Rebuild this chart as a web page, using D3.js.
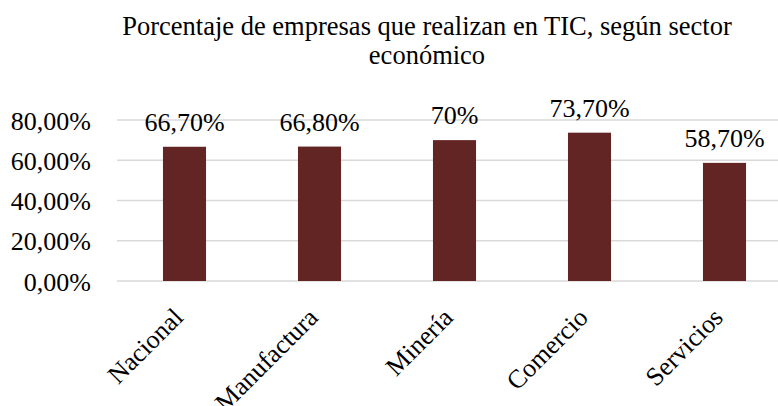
<!DOCTYPE html>
<html><head><meta charset="utf-8">
<script src="https://cdn.jsdelivr.net/npm/d3@7"></script>
<style>body{margin:0;background:#fff}svg{display:block}</style>
</head><body>
<script>
const categories = ["Nacional","Manufactura","Minería","Comercio","Servicios"];
const values = [66.7, 66.8, 70, 73.7, 58.7];
const valueLabels = ["66,70%","66,80%","70%","73,70%","58,70%"];
const yTicks = [0, 20, 40, 60, 80];
const yTickLabels = ["0,00%","20,00%","40,00%","60,00%","80,00%"];
const titleLines = ["Porcentaje de empresas que realizan en TIC, según sector","económico"];

(function(){
const W = 778, H = 406;
const font = "'Liberation Serif','Times New Roman',serif";
const svg = d3.select("body").append("svg").attr("width", W).attr("height", H);

const mL = 117, mR = 792, mT = 120, mB = 281;
const x = d3.scaleBand().domain(categories).range([mL, mR]).paddingInner(0.681).paddingOuter(0.3405);
const y = d3.scaleLinear().domain([0, 80]).range([mB, mT]);

svg.append("g").selectAll("text").data(titleLines).join("text")
  .attr("x", 427).attr("y", (d,i) => 35 + i*29)
  .attr("text-anchor","middle").attr("font-family",font).attr("font-size",26.5).attr("fill","#000")
  .text(d => d);

svg.append("g").selectAll("line").data(yTicks).join("line")
  .attr("x1", mL).attr("x2", mR).attr("y1", d => y(d)).attr("y2", d => y(d))
  .attr("stroke","#d9d9d9").attr("stroke-width",1.3);

const yAxis = d3.axisLeft(y).tickValues(yTicks).tickSize(0).tickPadding(0)
  .tickFormat((d,i) => yTickLabels[i]);
const ga = svg.append("g").attr("transform", `translate(${mL-26},0)`).call(yAxis);
ga.select(".domain").remove();
ga.selectAll("text").attr("font-family",font).attr("font-size",26).attr("fill","#000").attr("dy","0.35em");

svg.append("g").selectAll("rect").data(values).join("rect")
  .attr("x", (d,i) => x(categories[i])).attr("width", x.bandwidth())
  .attr("y", d => y(d)).attr("height", d => y(0) - y(d))
  .attr("fill","#632523");

svg.append("g").selectAll("text").data(values).join("text")
  .attr("x", (d,i) => x(categories[i]) + x.bandwidth()/2)
  .attr("y", d => y(d) - 16)
  .attr("text-anchor","middle").attr("font-family",font).attr("font-size",26).attr("fill","#000")
  .text((d,i) => valueLabels[i]);

const xAxis = d3.axisBottom(x).tickSize(0).tickPadding(0);
const gx = svg.append("g").attr("transform", `translate(0,${mB})`).call(xAxis);
gx.select(".domain").remove();
gx.selectAll("text")
  .attr("font-family",font).attr("font-size",26).attr("fill","#000")
  .attr("text-anchor","end")
  .attr("transform","translate(0,38) rotate(-45)")
  .attr("dy","0").attr("y",0).attr("x",0);
})();
</script>
</body></html>
